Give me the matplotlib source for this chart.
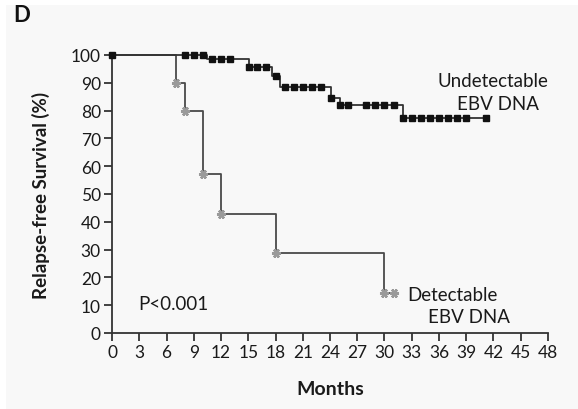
import numpy as np
import matplotlib
matplotlib.use("Agg")
import matplotlib.pyplot as plt
from matplotlib.patches import Rectangle

# ---- data ----
und_times = [0, 10.5, 15.1, 17.6, 18.5, 24.1, 25.1, 32.0, 41.2]
und_surv = [100, 98.6, 95.7, 92.3, 88.6, 84.4, 82.0, 77.4, 77.4]
und_censor = [0, 8, 9, 10, 11, 12, 13, 15.1, 16, 17, 18, 19, 20, 21, 22, 23,
               24.1, 25.1, 26, 28, 29, 30, 31, 32.0, 33, 34, 35, 36, 37, 38, 39, 41.2]

det_times = [0, 7, 8, 10, 12, 18, 30, 31]
det_surv = [100, 90, 80, 57.1, 42.9, 28.6, 14.3, 14.3]
det_marks = [7, 8, 10, 12, 18, 30, 31]

x_ticks = list(range(0, 49, 3))
y_ticks = list(range(0, 101, 10))

plt.rcParams['font.family'] = ['Lato', 'DejaVu Sans']

def level_at(times, surv, t):
    i = np.searchsorted(times, t, side='right') - 1
    return np.asarray(surv)[i]

fig = plt.figure(figsize=(5.78, 4.10), dpi=100)
fig.patch.set_facecolor('#f8f8f8')
fig.patches.append(Rectangle((0, 0), 6/578, 1, transform=fig.transFigure,
                             facecolor='white', edgecolor='none', zorder=0))
fig.patches.append(Rectangle((0, 1 - 6/410), 1, 6/410, transform=fig.transFigure,
                             facecolor='white', edgecolor='none', zorder=0))

ax = fig.add_axes([112/578, 1 - 334/410, (548 - 112)/578, (334 - 56)/410])
ax.set_facecolor('none')

# detectable curve
ax.step(det_times, det_surv, where='post', color='#4a4a4a', lw=1.3, zorder=2, clip_on=False)
det_y = [level_at(det_times, det_surv, t) for t in det_marks]
ax.plot(det_marks, det_y, linestyle='none', marker=(6, 2, 90), markersize=6.5,
        markeredgewidth=1.8, color='#9a9a9a', zorder=3, clip_on=False)

# undetectable curve
ax.step(und_times, und_surv, where='post', color='#333333', lw=1.3, zorder=4, clip_on=False)
und_y = [level_at(und_times, und_surv, t) for t in und_censor]
ax.plot(und_censor, und_y, linestyle='none', marker='s', markersize=4.6,
        color='#111111', zorder=5, clip_on=False)

ax.set_xlim(0, 48)
ax.set_ylim(0, 100)
ax.set_xticks(x_ticks)
ax.set_yticks(y_ticks)
ax.tick_params(axis='both', direction='out', length=6, width=1.3, color='#333333',
               labelsize=12.5, labelcolor='#1a1a1a', pad=2)
for s in ['top', 'right']:
    ax.spines[s].set_visible(False)
for s in ['left', 'bottom']:
    ax.spines[s].set_linewidth(1.3)
    ax.spines[s].set_color('#333333')

ax.set_xlabel('Months', fontsize=14, fontweight='bold', color='#1a1a1a', labelpad=14)
ax.set_ylabel('Relapse-free Survival (%)', fontsize=13.5, fontweight='bold',
              color='#1a1a1a', labelpad=15)

ax.text(41.9, 90.7, 'Undetectable', fontsize=13.5, ha='center', va='center', color='#1a1a1a')
ax.text(42.5, 82.6, 'EBV DNA', fontsize=13.5, ha='center', va='center', color='#1a1a1a')
ax.text(37.5, 14.0, 'Detectable', fontsize=13.5, ha='center', va='center', color='#1a1a1a')
ax.text(39.3, 5.8, 'EBV DNA', fontsize=13.5, ha='center', va='center', color='#1a1a1a')
ax.text(2.9, 10.5, 'P<0.001', fontsize=13.5, ha='left', va='center', color='#1a1a1a')

fig.text(13/578, 1 - 15/410, 'D', fontsize=16, fontweight='bold', ha='left', va='center',
         color='#111111')

fig.savefig('out.png', dpi=100, facecolor=fig.get_facecolor())
